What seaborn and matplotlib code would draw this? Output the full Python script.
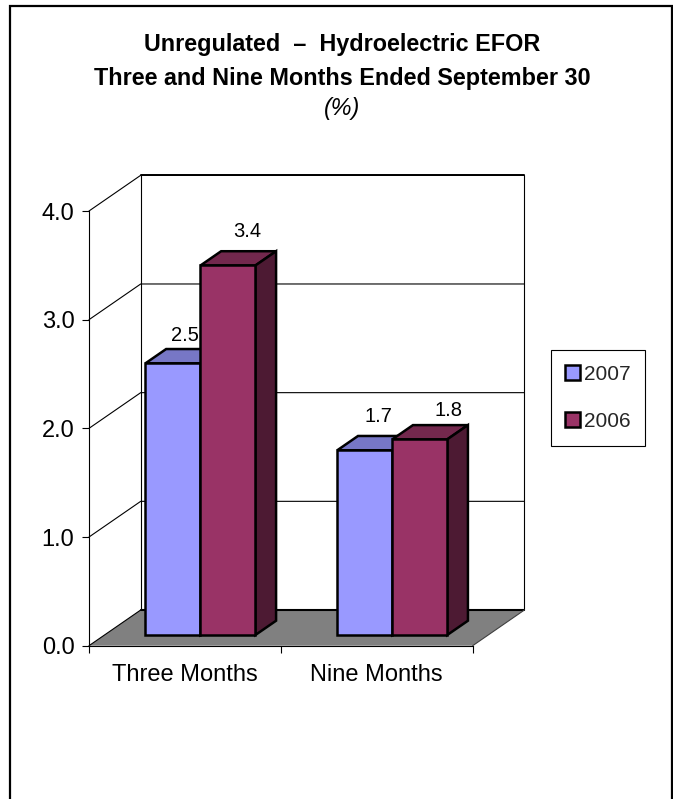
import pandas as pd
import matplotlib
matplotlib.use("Agg")
import matplotlib.pyplot as plt
from matplotlib.patches import Polygon, Rectangle
import seaborn as sns

categories = ["Three Months", "Nine Months"]
years = ["2007", "2006"]
values_2007 = [2.5, 1.7]
values_2006 = [3.4, 1.8]
y_ticks = [0.0, 1.0, 2.0, 3.0, 4.0]

colors = {"2007": "#9999FF", "2006": "#993366"}
top_colors = {"2007": "#7777C6", "2006": "#73284D"}
side_colors = {"2007": "#4D4D80", "2006": "#4D1A33"}

df = pd.DataFrame({
    "category": categories * 2,
    "year": [years[0]] * 2 + [years[1]] * 2,
    "value": values_2007 + values_2006,
})

sns.set_style("white")
plt.rcParams["font.family"] = ["Liberation Sans", "DejaVu Sans"]

W, H = 673, 799
fig = plt.figure(figsize=(W / 100, H / 100), dpi=100)
ax = fig.add_axes([89 / W, (H - 645.7) / H, 383.7 / W, 434.7 / H])

sns.barplot(data=df, x="category", y="value", hue="year", order=categories,
            hue_order=years, palette=colors, width=0.573, gap=0,
            edgecolor="black", linewidth=1.8, saturation=1, ax=ax)
ax.set_xlim(-0.5, 1.5)
ax.set_ylim(0, 4)
ax.set_yticks(y_ticks)
ax.set_yticklabels([f"{t:.1f}" for t in y_ticks])
ax.set_xlabel("")
ax.set_ylabel("")
ax.patch.set_alpha(0)
ax.tick_params(axis="both", which="major", length=5, width=0.8, color="black",
               left=True, bottom=True, labelsize=17, labelcolor="black")
ax.tick_params(axis="y", pad=5.5)
ax.set_xticks([-0.5, 0.5, 1.5], minor=False)
ax.set_xticklabels(["", "", ""])
ax.set_xticks([0, 1], minor=True)
ax.set_xticklabels(categories, minor=True)
ax.tick_params(axis="x", which="minor", length=0, pad=13, labelsize=17, labelcolor="black")
for s in ["left", "bottom"]:
    ax.spines[s].set_color("black")
    ax.spines[s].set_linewidth(0.8)
sns.despine(ax=ax, top=True, right=True)

# depth of the fake 3d box, in data units of the front plane
depth_x = 51.7 / 191.85
depth_y = 35.7 / 108.7
bar_front = 0.3
bar_back = 0.7

# walls and floor
x0, x1 = ax.get_xlim()
ax.add_patch(Polygon([(x0, 0), (x1, 0), (x1 + depth_x, depth_y), (x0 + depth_x, depth_y)],
                     closed=True, facecolor="#808080", edgecolor="none", clip_on=False, zorder=1))
for t in y_ticks:
    ax.plot([x0, x0 + depth_x, x1 + depth_x], [t, t + depth_y, t + depth_y],
            color="black", lw=0.8, clip_on=False, zorder=1.2)
ax.plot([x0 + depth_x, x0 + depth_x], [depth_y, 4 + depth_y], color="black", lw=0.8, clip_on=False, zorder=1.2)
ax.plot([x1 + depth_x, x1 + depth_x], [depth_y, 4 + depth_y], color="black", lw=0.8, clip_on=False, zorder=1.2)
ax.plot([x0 + depth_x, x1 + depth_x], [depth_y, depth_y], color="black", lw=1.5, clip_on=False, zorder=1.2)
ax.plot([x1, x1 + depth_x], [0, depth_y], color="#404040", lw=0.8, clip_on=False, zorder=1.2)
ax.plot([x0 + depth_x, x1 + depth_x], [4 + depth_y, 4 + depth_y], color="black", lw=1.4, clip_on=False, zorder=1.2)

# seaborn's bars moved back on the floor, then top and side faces from them
edge = dict(edgecolor="black", linewidth=1.8, joinstyle="miter", clip_on=False, closed=True)
label_nudge = {0: [(12, 28), (19, 34)], 1: [(14, 34), (29, 29)]}
for i, (year, container) in enumerate(zip(years, ax.containers)):
    z = 3 + i
    for j, bar in enumerate(container):
        bar.set_x(bar.get_x() + depth_x * bar_front)
        bar.set_y(depth_y * bar_front)
        bar.set_zorder(z)
        bar.set_clip_on(False)
        bx0, bx1 = bar.get_x(), bar.get_x() + bar.get_width()
        by0, by1 = bar.get_y(), bar.get_y() + bar.get_height()
        dx = depth_x * (bar_back - bar_front)
        dy = depth_y * (bar_back - bar_front)
        ax.add_patch(Polygon([(bx0, by1), (bx1, by1), (bx1 + dx, by1 + dy), (bx0 + dx, by1 + dy)],
                             facecolor=top_colors[year], zorder=z - 0.1, **edge))
        ax.add_patch(Polygon([(bx1, by0), (bx1, by1), (bx1 + dx, by1 + dy), (bx1 + dx, by0 + dy)],
                             facecolor=side_colors[year], zorder=z - 0.1, **edge))
        nx, ny = label_nudge[j][i]
        ax.annotate(f"{bar.get_height():.1f}", xy=((bx0 + bx1) / 2, by1), xytext=(nx, ny),
                    textcoords="offset pixels", ha="center", va="center", fontsize=14.5,
                    color="black", annotation_clip=False, zorder=10)

# legend box
handles, labels = ax.get_legend_handles_labels()
ax.legend(handles, labels, loc="center", bbox_to_anchor=(597.8 / W, (H - 398) / H),
          bbox_transform=fig.transFigure, frameon=True, fancybox=False, framealpha=1,
          edgecolor="black", fontsize=15, handlelength=0.7, handleheight=0.7,
          handletextpad=0.2, labelspacing=1.35, borderpad=0.7, borderaxespad=0)
ax.get_legend().get_frame().set_linewidth(0.8)

fig.text(342 / W, 1 - 45 / H, "Unregulated  \u2013  Hydroelectric EFOR", ha="center", va="center",
         fontsize=16.8, fontweight="bold", color="black")
fig.text(342 / W, 1 - 78 / H, "Three and Nine Months Ended September 30", ha="center", va="center",
         fontsize=16.8, fontweight="bold", color="black")
fig.text(342 / W, 1 - 109 / H, "(%)", ha="center", va="center",
         fontsize=16.8, fontstyle="italic", color="black")

# chart frame, its bottom edge falls off the picture
fig.add_artist(Rectangle((10 / W, -10 / H), 662 / W, (H + 10 - 6) / H, transform=fig.transFigure,
                         fill=False, edgecolor="black", linewidth=1.6))

fig.savefig("out.png", dpi=100)
